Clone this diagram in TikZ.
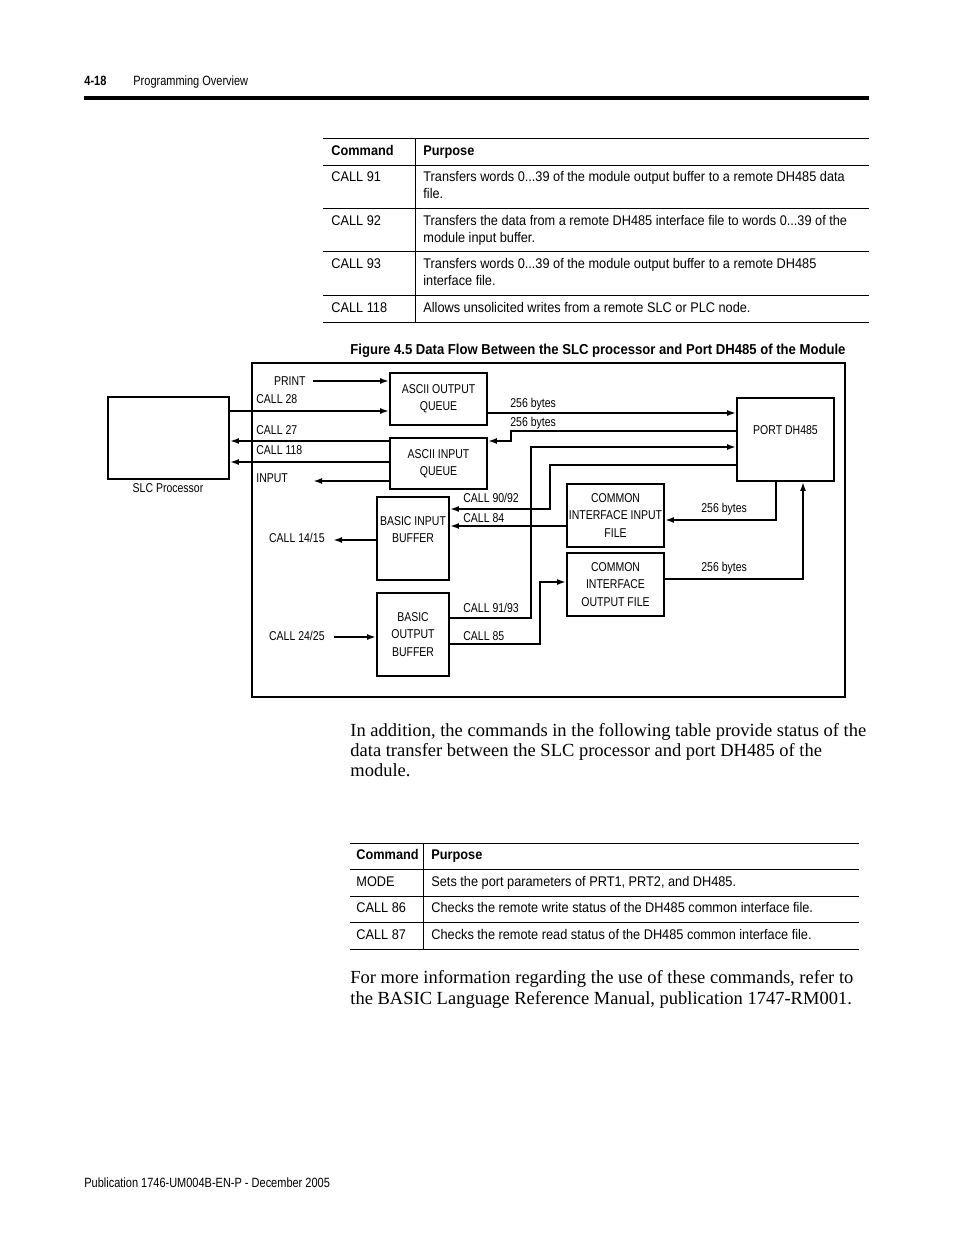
\documentclass[tikz,border=0pt]{standalone}
\usepackage{fontspec}
\setmainfont{Liberation Serif}
\newfontfamily\cond[FakeStretch=0.82]{Liberation Sans}
\newfontfamily\condt[FakeStretch=0.91]{Liberation Sans}
\usetikzlibrary{arrows.meta}
\begin{document}
\begin{tikzpicture}[x=0.5pt,y=-0.5pt,
  box/.style={draw,line width=0.9pt,inner sep=0pt,align=center,font=\cond\fontsize{6.4}{8.6}\selectfont},
  conn/.style={line width=0.9pt},
  arr/.style={line width=0.9pt,-{Latex[length=4.5pt,width=3pt]}},
  lbl/.style={inner sep=0pt,font=\cond\fontsize{6.4}{8}\selectfont,text height=4.6pt,text depth=0pt},
  pg/.style={inner sep=0pt,anchor=base west,font=\cond\fontsize{6.7}{8}\selectfont},
  pgb/.style={inner sep=0pt,anchor=base west,font=\cond\bfseries\fontsize{6.7}{8}\selectfont},
  tb/.style={inner sep=0pt,anchor=base west,font=\condt\fontsize{7}{8}\selectfont},
  tbh/.style={inner sep=0pt,anchor=base west,font=\condt\bfseries\fontsize{7}{8}\selectfont},
  capt/.style={inner sep=0pt,anchor=base west,font=\condt\bfseries\fontsize{7.2}{8}\selectfont},
  body/.style={inner sep=0pt,anchor=base west,font=\fontsize{9.25}{10}\selectfont},
  rule/.style={line width=0.5pt}]
\useasboundingbox (0,0) rectangle (954,1235);
\fill[white] (0,0) rectangle (954,1235);

% header
\node[pgb] (pgnum) at (84,86) {4-18};
\node[pg] (pgtitle) at (133,86) {Programming Overview};
\fill (84,96) rectangle (869,100);

% table 1
\draw[rule] (323,139) -- (869,139);
\draw[rule] (323,166) -- (869,166);
\draw[rule] (323,209) -- (869,209);
\draw[rule] (323,252) -- (869,252);
\draw[rule] (323,296) -- (869,296);
\draw[rule] (323,323) -- (869,323);
\draw[rule] (415,139) -- (415,323);
\node[tbh] (h1a) at (331,156) {Command};
\node[tbh] (h1b) at (423,156) {Purpose};
\node[tb] (c91) at (331,182) {CALL 91};
\node[tb] (p91a) at (423,182) {Transfers words 0...39 of the module output buffer to a remote DH485 data};
\node[tb] (p91b) at (423,199) {file.};
\node[tb] (c92) at (331,226) {CALL 92};
\node[tb] (p92a) at (423,226) {Transfers the data from a remote DH485 interface file to words 0...39 of the};
\node[tb] (p92b) at (423,243) {module input buffer.};
\node[tb] (c93) at (331,269) {CALL 93};
\node[tb] (p93a) at (423,269) {Transfers words 0...39 of the module output buffer to a remote DH485};
\node[tb] (p93b) at (423,286) {interface file.};
\node[tb] (c118) at (331,313) {CALL 118};
\node[tb] (p118) at (423,313) {Allows unsolicited writes from a remote SLC or PLC node.};

% caption
\node[capt] (cap) at (350,354) {Figure 4.5 Data Flow Between the SLC processor and Port DH485 of the Module};

% diagram frame
\draw[line width=0.9pt] (252,363) rectangle (845,697);

% boxes
\node[box,minimum width=60.5pt,minimum height=41pt] (slc) at (168.5,438) {};
\node[lbl] (slcl) at (168,488) {SLC Processor};
\node[box,minimum width=48.5pt,minimum height=26pt] (aoq) at (438.5,399) {ASCII OUTPUT\\QUEUE};
\node[box,minimum width=48.5pt,minimum height=25.5pt] (aiq) at (438.5,463.5) {ASCII INPUT\\QUEUE};
\node[box,minimum width=48.5pt,minimum height=41.5pt] (port) at (785.5,439.5) {PORT DH485\\[0.4pt]};
\node[box,minimum width=36pt,minimum height=41.5pt] (bib) at (413,538.5) {BASIC INPUT\\BUFFER\\[0.4pt]};
\node[box,minimum width=36pt,minimum height=41.5pt] (bob) at (413,634.5) {BASIC\\OUTPUT\\BUFFER};
\node[box,minimum width=48.5pt,minimum height=31.5pt] (ciif) at (615.5,515.5) {COMMON\\INTERFACE INPUT\\FILE};
\node[box,minimum width=48.5pt,minimum height=31.5pt] (ciof) at (615.5,584.5) {COMMON\\INTERFACE\\OUTPUT FILE};

% free ends
\coordinate (printend) at (313,381);
\coordinate (inputend) at (313,481);
\coordinate (c1415end) at (333,540);
\coordinate (c2425end) at (334,637);

% connectors
\draw[arr] (printend) -- (aoq.west |- printend);
\draw[arr] (slc.east |- 0,411) -- (aoq.west |- 0,411);
\draw[arr] (aiq.west |- 0,441) -- (slc.east |- 0,441);
\draw[arr] (aiq.west |- 0,462) -- (slc.east |- 0,462);
\draw[arr] (aiq.west |- inputend) -- (inputend);
\draw[arr] (aoq.east |- 0,413) -- (port.west |- 0,413);
\draw[arr] (port.west |- 0,431) -- (511,431) -- (511,441) -- (aiq.east |- 0,441);
\draw[arr] (bob.east |- 0,618) -- (531,618) -- (531,447) -- (port.west |- 0,447);
\draw[arr] (port.west |- 0,465) -- (550,465) -- (550,509) -- (bib.east |- 0,509);
\draw[arr] (ciif.west |- 0,526) -- (bib.east |- 0,526);
\draw[arr] (bob.east |- 0,644) -- (540,644) -- (540,582) -- (ciof.west |- 0,582);
\draw[arr] (port.south -| 776,0) -- (776,520) -- (ciif.east |- 0,520);
\draw[arr] (ciof.east |- 0,579) -- (803,579) -- (port.south -| 803,0);
\draw[arr] (bib.west |- c1415end) -- (c1415end);
\draw[arr] (c2425end) -- (bob.west |- c2425end);

% labels
\node[lbl,anchor=east] (lprint) at (306,381) {PRINT};
\node[lbl,anchor=west] (l28) at (256,399) {CALL 28};
\node[lbl,anchor=west] (l27) at (256,430) {CALL 27};
\node[lbl,anchor=west] (l118) at (256,450) {CALL 118};
\node[lbl,anchor=west] (linput) at (256,478) {INPUT};
\node[lbl,anchor=west] (lb1) at (510,403) {256 bytes};
\node[lbl,anchor=west] (lb2) at (510,422) {256 bytes};
\node[lbl,anchor=west] (l9092) at (463,498) {CALL 90/92};
\node[lbl,anchor=west] (l84) at (463,518) {CALL 84};
\node[lbl,anchor=west] (l9193) at (463,608) {CALL 91/93};
\node[lbl,anchor=west] (l85) at (463,636) {CALL 85};
\node[lbl,anchor=west] (lb3) at (701,508) {256 bytes};
\node[lbl,anchor=west] (lb4) at (701,567) {256 bytes};
\node[lbl,anchor=east] (l1415) at (325,538) {CALL 14/15};
\node[lbl,anchor=east] (l2425) at (325,636) {CALL 24/25};

% body text 1
\node[body] (t1) at (350,736) {In addition, the commands in the following table provide status of the};
\node[body] (t2) at (350,756) {data transfer between the SLC processor and port DH485 of the};
\node[body] (t3) at (350,776) {module.};

% table 2
\draw[rule] (350,843) -- (859,843);
\draw[rule] (350,869) -- (859,869);
\draw[rule] (350,896) -- (859,896);
\draw[rule] (350,922) -- (859,922);
\draw[rule] (350,949) -- (859,949);
\draw[rule] (423,843) -- (423,949);
\node[tbh] (h2a) at (356,859) {Command};
\node[tbh] (h2b) at (431,859) {Purpose};
\node[tb] (mode) at (356,886) {MODE};
\node[tb] (pmode) at (431,886) {Sets the port parameters of PRT1, PRT2, and DH485.};
\node[tb] (c86) at (356,912) {CALL 86};
\node[tb] (p86) at (431,912) {Checks the remote write status of the DH485 common interface file.};
\node[tb] (c87) at (356,939) {CALL 87};
\node[tb] (p87) at (431,939) {Checks the remote read status of the DH485 common interface file.};

% body text 2
\node[body] (t4) at (350,983) {For more information regarding the use of these commands, refer to};
\node[body] (t5) at (350,1004) {the BASIC Language Reference Manual, publication 1747-RM001.};

% footer
\node[pg] (foot) at (84,1187) {Publication 1746-UM004B-EN-P - December 2005};
\end{tikzpicture}
\end{document}
